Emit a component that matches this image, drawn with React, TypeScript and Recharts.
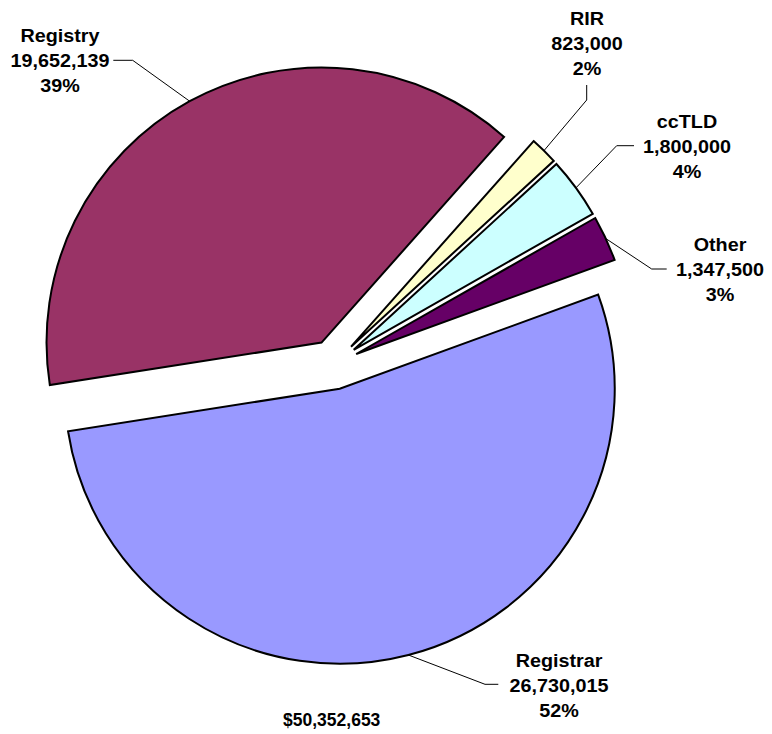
import React from "react";
import { PieChart, Pie, Cell } from "recharts";

// ---- data ----
const categories = ["Registry", "RIR", "ccTLD", "Other", "Registrar"];
const amounts = [19652139, 823000, 1800000, 1347500, 26730015];
const percentLabels = ["39%", "2%", "4%", "3%", "52%"];
const totalLabel = "$50,352,653";

// ---- styling / layout (not data) ----
const colors = ["#993366", "#FFFFCC", "#CCFFFF", "#660066", "#9999FF"];
const W = 772;
const H = 734;
const CX = 333.5;
const CY = 364.5;
const R = 275;
const EXPLODE = 25;
const START = 188.9;
const END = START - 360;
const FONT = "'Liberation Sans', Arial, Helvetica, sans-serif";
const FS = 17.5;
const LINE = 25.2;
const SX = 1.13;

// label layout per slice: elbow point, leader end point, text centre x, middle baseline
const labelLayout = [
  { elbow: [132.7, 60.3], end: [113.3, 60.3], tx: 60, ty: 66.8 },
  { elbow: [586.7, 100], end: [586.7, 85], tx: 587, ty: 50 },
  { elbow: [616.7, 145.7], end: [634, 145.7], tx: 687, ty: 153 },
  { elbow: [651.7, 269], end: [666.7, 269], tx: 720, ty: 276 },
  { elbow: [485, 684.3], end: [498.3, 684.3], tx: 559, ty: 692 },
];

const data = categories.map((name, i) => ({ name, value: amounts[i] }));
const total = amounts.reduce((a, b) => a + b, 0);
const RAD = Math.PI / 180;

// mid angle of each slice (from the data) to explode along
const midAngles: number[] = [];
{
  let cum = 0;
  amounts.forEach((v) => {
    midAngles.push(START - (360 * (cum + v / 2)) / total);
    cum += v;
  });
}

const fmt = (n: number) => n.toLocaleString("en-US");

function makeLabel(slice: number) {
  return (p: any) => {
    if (p.index !== slice) return <g />;
    const lay = labelLayout[slice];
    const ax = p.cx + p.outerRadius * Math.cos(-p.midAngle * RAD);
    const ay = p.cy + p.outerRadius * Math.sin(-p.midAngle * RAD);
    return (
      <g>
        <polyline
          points={`${ax},${ay} ${lay.elbow[0]},${lay.elbow[1]} ${lay.end[0]},${lay.end[1]}`}
          fill="none"
          stroke="#000"
          strokeWidth={1}
        />
        <text
          transform={`translate(${lay.tx},${lay.ty}) scale(${SX},1)`}
          textAnchor="middle"
          fontFamily={FONT}
          fontWeight="bold"
          fontSize={FS}
          fill="#000"
        >
          <tspan x={0} y={-LINE}>
            {categories[slice]}
          </tspan>
          <tspan x={0} y={0}>
            {fmt(amounts[slice])}
          </tspan>
          <tspan x={0} y={LINE}>
            {percentLabels[slice]}
          </tspan>
        </text>
      </g>
    );
  };
}

export default function App() {
  return (
    <div style={{ position: "absolute", left: 0, top: 0, width: W, height: H, background: "#fff" }}>
      <PieChart width={W} height={H} margin={{ top: 0, right: 0, bottom: 0, left: 0 }}>
        {categories.map((_, s) => {
          const dx = EXPLODE * Math.cos(midAngles[s] * RAD);
          const dy = -EXPLODE * Math.sin(midAngles[s] * RAD);
          return (
            <Pie
              key={s}
              data={data}
              dataKey="value"
              nameKey="name"
              cx={CX + dx}
              cy={CY + dy}
              outerRadius={R}
              innerRadius={0}
              startAngle={START}
              endAngle={END}
              isAnimationActive={false}
              labelLine={false}
              label={makeLabel(s)}
            >
              {data.map((_, i) => (
                <Cell
                  key={i}
                  fill={i === s ? colors[i] : "none"}
                  stroke={i === s ? "#000" : "none"}
                  strokeWidth={2}
                />
              ))}
            </Pie>
          );
        })}
        <text
          x={331.7}
          y={725.5}
          textAnchor="middle"
          fontFamily={FONT}
          fontWeight="bold"
          fontSize={FS}
          fill="#000"
        >
          {totalLabel}
        </text>
      </PieChart>
    </div>
  );
}
